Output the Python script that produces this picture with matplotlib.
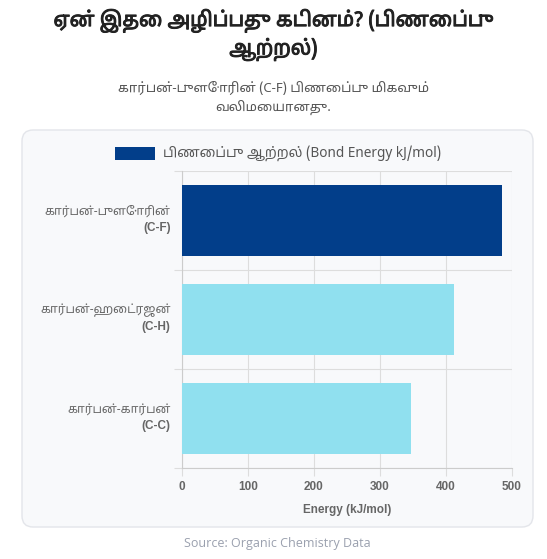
import matplotlib
matplotlib.use("Agg")
import matplotlib.pyplot as plt
import matplotlib.patheffects as pe
from matplotlib.patches import FancyBboxPatch, Rectangle

# data
bond_names = ["கார்பன்-புளோரின்", "கார்பன்-ஹைட்ரஜன்", "கார்பன்-கார்பன்"]
bond_codes = ["(C-F)", "(C-H)", "(C-C)"]
energy = [485, 413, 347]
bar_colors = ["#023e8a", "#90e0ef", "#90e0ef"]
x_ticks = [0, 100, 200, 300, 400, 500]

title = "ஏன் இதை அழிப்பது கடினம்? (பிணைப்பு\nஆற்றல்)"
subtitle = "கார்பன்-புளோரின் (C-F) பிணைப்பு மிகவும்\nவலிமையானது."
legend_label = "பிணைப்பு ஆற்றல் (Bond Energy kJ/mol)"
x_label = "Energy (kJ/mol)"
source = "Source: Organic Chemistry Data"

tamil = ["Noto Sans Tamil", "Hind Madurai", "Noto Sans", "DejaVu Sans"]
latin = ["Liberation Sans", "DejaVu Sans"]

W, H = 547, 559
fig = plt.figure(figsize=(W / 100, H / 100), dpi=100)
fig.patch.set_facecolor("white")


def fx(px):
    return px / W


def fy(py):
    return 1 - py / H


# card behind chart
card = FancyBboxPatch((fx(22), fy(527)), fx(533) - fx(22), fy(130) - fy(527),
                      boxstyle="round,pad=0,rounding_size=0.02",
                      transform=fig.transFigure, facecolor="#f8f9fb",
                      edgecolor="#e3e5ea", linewidth=1.0, zorder=-5)
fig.patches.append(card)

fig.text(0.5, fy(35), title, ha="center", va="center", fontsize=14.5,
         color="#222222", family=tamil, linespacing=1.3,
         path_effects=[pe.withStroke(linewidth=0.7, foreground="#222222")])
fig.text(0.5, fy(98), subtitle, ha="center", va="center", fontsize=9.5,
         color="#555555", family=tamil, linespacing=1.5)

# legend
fig.patches.append(Rectangle((fx(115), fy(160)), fx(155) - fx(115), fy(147) - fy(160),
                             transform=fig.transFigure, facecolor="#023e8a",
                             edgecolor="none"))
fig.text(fx(163), fy(153), legend_label, ha="left", va="center", fontsize=9.8,
         color="#555555", family=tamil)

ax = fig.add_axes([fx(181.7), fy(468.3), fx(511.7) - fx(181.7), fy(171) - fy(468.3)])
ax.set_facecolor("none")
ax.set_zorder(2)

ypos = list(range(len(energy)))
ax.barh(ypos, energy, height=0.72, color=bar_colors, zorder=3)
ax.set_ylim(len(energy) - 0.5, -0.5)
ax.set_xlim(0, 500)

ax.set_xticks(x_ticks)
ax.set_xticklabels([str(t) for t in x_ticks], family=latin, fontsize=8.5,
                   fontweight="bold", color="#666666")
ax.set_yticks([i + 0.5 for i in range(-1, len(energy))])
ax.set_yticklabels([])
ax.grid(True, color="#dddddd", linewidth=0.8, zorder=0)
ax.tick_params(axis="x", length=6, color="#dddddd", pad=3)
ax.tick_params(axis="y", length=6, color="#dddddd")
for s in ax.spines.values():
    s.set_visible(False)
ax.spines["left"].set_visible(True)
ax.spines["left"].set_color("#cccccc")
ax.spines["bottom"].set_visible(True)
ax.spines["bottom"].set_color("#cccccc")

ax.set_xlabel(x_label, family=latin, fontsize=8.5, fontweight="bold",
              color="#666666", labelpad=8)

for i, (nm, cd) in enumerate(zip(bond_names, bond_codes)):
    ax.annotate(nm, xy=(0, i), xycoords=("axes fraction", "data"),
                xytext=(-8, 6.5), textcoords="offset points", ha="right",
                va="center", fontsize=8.7, color="#666666", family=tamil)
    ax.annotate(cd, xy=(0, i), xycoords=("axes fraction", "data"),
                xytext=(-8, -5.5), textcoords="offset points", ha="right",
                va="center", fontsize=8.5, fontweight="bold", color="#666666",
                family=latin)

fig.text(fx(277), fy(543), source, ha="center", va="center", fontsize=9,
         color="#9aa0ae", family=["Open Sans", "DejaVu Sans"])

fig.savefig("out.png", dpi=100, facecolor="white")
